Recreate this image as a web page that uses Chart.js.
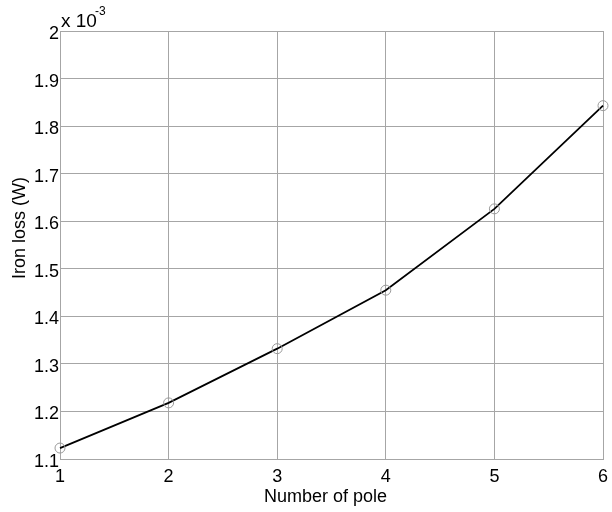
<!DOCTYPE html>
<html>
<head>
<meta charset="utf-8">
<script src="https://cdn.jsdelivr.net/npm/chart.js@4.4.1/dist/chart.umd.min.js"></script>
<style>
  html, body { margin: 0; padding: 0; background: #fff; }
  #wrap { width: 612px; height: 512px; }
</style>
</head>
<body>
<div id="wrap"><canvas id="lossChart" width="612" height="512"></canvas></div>
<script>
// ===== Data =====
const poles = [1, 2, 3, 4, 5, 6];
const ironLoss = [1.123, 1.218, 1.332, 1.455, 1.626, 1.843]; // x 10^-3 W
const yTicks = [1.1, 1.2, 1.3, 1.4, 1.5, 1.6, 1.7, 1.8, 1.9, 2];

const FONT = 'Liberation Sans, Arial, sans-serif';
const GRID = '#a6a6a6';

// ===== Labels drawn on top (exponent + axis titles) =====
const labelPlugin = {
  id: 'labels',
  afterDraw(chart) {
    const ctx = chart.ctx;
    const area = chart.chartArea;
    ctx.save();
    ctx.fillStyle = '#000';
    ctx.textBaseline = 'alphabetic';
    ctx.textAlign = 'left';
    ctx.font = '19px ' + FONT;
    ctx.fillText('x 10', area.left + 1, 27);
    ctx.font = '12px ' + FONT;
    ctx.fillText('-3', area.left + 35, 15);

    // x title
    ctx.font = '18px ' + FONT;
    ctx.textAlign = 'center';
    ctx.textBaseline = 'middle';
    ctx.fillText('Number of pole', (area.left + area.right) / 2 - 6, 497);

    // y title
    ctx.translate(20, (area.top + area.bottom) / 2 - 17);
    ctx.rotate(-Math.PI / 2);
    ctx.fillText('Iron loss (W)', 0, 0);
    ctx.restore();
  }
};

// ===== Chart =====
const ctx = document.getElementById('lossChart').getContext('2d');
new Chart(ctx, {
  type: 'line',
  data: {
    datasets: [{
      data: poles.map((p, i) => ({ x: p, y: ironLoss[i] })),
      borderColor: '#000',
      borderWidth: 1.8,
      pointRadius: 5,
      pointBorderColor: '#999',
      pointBorderWidth: 1,
      pointBackgroundColor: 'rgba(0,0,0,0)',
      tension: 0,
      fill: false,
      clip: false
    }]
  },
  options: {
    responsive: false,
    animation: false,
    layout: { padding: { top: 31, right: 9, left: 0, bottom: 0 } },
    plugins: { legend: { display: false }, tooltip: { enabled: false } },
    scales: {
      x: {
        type: 'linear',
        min: 1,
        max: 6,
        afterFit: s => { s.height = 53; s.paddingLeft = 0; s.paddingRight = 0; },
        ticks: {
          stepSize: 1,
          padding: 7,
          maxRotation: 0,
          color: '#000',
          font: { family: FONT, size: 18 }
        },
        grid: { color: GRID, drawTicks: false },
        border: { display: true, color: GRID }
      },
      y: {
        min: 1.1,
        max: 2,
        afterFit: s => { s.width = 60; s.paddingTop = 0; s.paddingBottom = 0; },
        afterBuildTicks: s => { s.ticks = yTicks.map(v => ({ value: v })); },
        ticks: {
          padding: 1,
          labelOffset: 3,
          color: '#000',
          font: { family: FONT, size: 18 },
          callback: v => String(Math.round(v * 10) / 10)
        },
        grid: { color: GRID, drawTicks: false },
        border: { display: true, color: GRID }
      }
    }
  },
  plugins: [labelPlugin]
});
</script>
</body>
</html>
